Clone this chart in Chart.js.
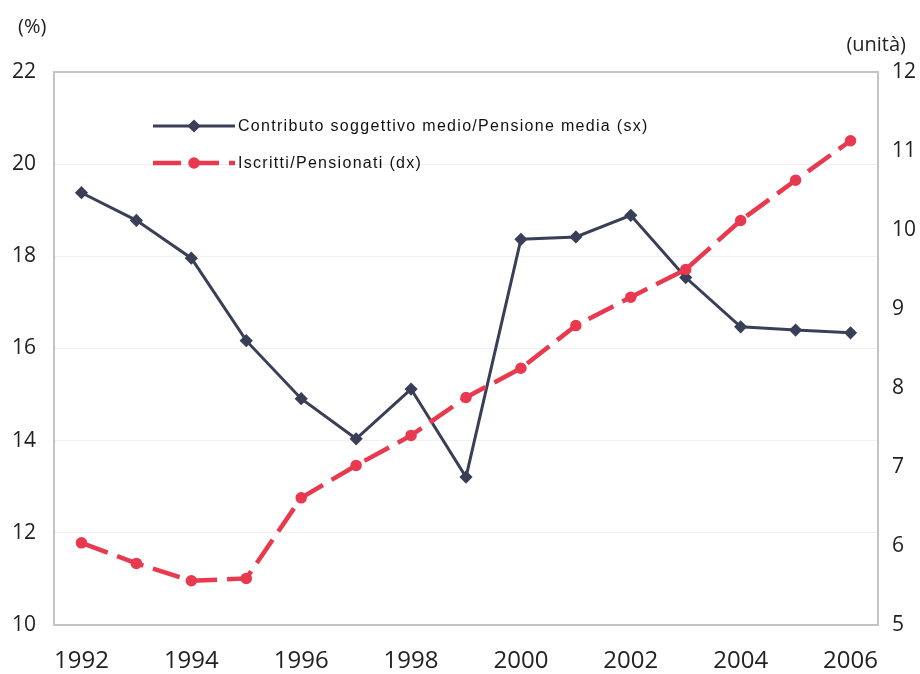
<!DOCTYPE html>
<html>
<head>
<meta charset="utf-8">
<script src="https://cdn.jsdelivr.net/npm/chart.js@4.4.1/dist/chart.umd.min.js"></script>
<style>
  html, body { margin: 0; padding: 0; background: #fff; }
  #wrap { width: 920px; height: 674px; position: relative; }
</style>
</head>
<body>
<div id="wrap"><canvas id="chart" width="920" height="674"></canvas></div>
<script>
// --- data ---
const years = ['1992','1993','1994','1995','1996','1997','1998','1999','2000','2001','2002','2003','2004','2005','2006'];
const contributo = [19.38, 18.78, 17.96, 16.17, 14.91, 14.04, 15.12, 13.21, 18.37, 18.42, 18.89, 17.54, 16.47, 16.40, 16.34];
const iscritti = [6.04, 5.78, 5.56, 5.59, 6.61, 7.02, 7.40, 7.88, 8.25, 8.79, 9.15, 9.50, 10.12, 10.63, 11.13];
const leftTicks = [10, 12, 14, 16, 18, 20, 22];
const rightTicks = [5, 6, 7, 8, 9, 10, 11, 12];
const seriesNames = ['Contributo soggettivo medio/Pensione media (sx)', 'Iscritti/Pensionati (dx)'];

const BLUE = '#3a3f58';
const RED = '#e8394e';
const TICK_FONT = "'Open Sans', 'DejaVu Sans', sans-serif";

Chart.defaults.animation = false;

// legend drawn inside the plot, plus frame and unit labels
const decor = {
  id: 'decor',
  afterDatasetsDraw(chart) {
    const { ctx, chartArea: a } = chart;
    ctx.save();
    // frame round the plot
    ctx.strokeStyle = '#c4c4c4';
    ctx.lineWidth = 2;
    ctx.strokeRect(a.left, a.top, a.right - a.left, a.bottom - a.top);

    // unit labels
    ctx.fillStyle = '#222';
    ctx.font = "20px " + TICK_FONT;
    ctx.textBaseline = 'middle';
    ctx.textAlign = 'left';
    ctx.fillText('(%)', 18, 27);
    ctx.textAlign = 'right';
    ctx.fillText('(unità)', 906, 45);

    // legend
    const x0 = a.left + 99, x1 = a.left + 181;
    const rows = [a.top + 54, a.top + 91];
    chart.data.datasets.forEach((ds, i) => {
      const y = rows[i];
      ctx.strokeStyle = ds.borderColor;
      ctx.lineWidth = ds.borderWidth;
      ctx.setLineDash(ds.borderDash || []);
      ctx.beginPath();
      ctx.moveTo(x0, y);
      ctx.lineTo(x1, y);
      ctx.stroke();
      ctx.setLineDash([]);
      Chart.helpers.drawPoint(ctx, {
        pointStyle: ds.pointStyle, radius: ds.pointRadius, borderWidth: 1
      }, (x0 + x1) / 2, y);
      ctx.fillStyle = ds.borderColor;
      ctx.fill();
      ctx.fillStyle = '#111';
      ctx.font = "16px 'Liberation Sans', Arial, sans-serif";
      ctx.letterSpacing = '1.3px';
      ctx.textAlign = 'left';
      ctx.textBaseline = 'middle';
      ctx.fillText(seriesNames[i], x1 + 3, y + 1);
      ctx.letterSpacing = '0px';
    });
    ctx.restore();
  }
};

function makeChart() {
  const ctx = document.getElementById('chart');
  new Chart(ctx, {
    type: 'line',
    data: {
      labels: years,
      datasets: [{
        label: seriesNames[0],
        data: contributo,
        yAxisID: 'y',
        borderColor: BLUE,
        backgroundColor: BLUE,
        borderWidth: 3,
        pointStyle: 'rectRot',
        pointRadius: 4.5,
        tension: 0,
        order: 1
      }, {
        label: seriesNames[1],
        data: iscritti,
        yAxisID: 'y1',
        borderColor: RED,
        backgroundColor: RED,
        borderWidth: 4.5,
        borderDash: [28, 10],
        pointStyle: 'circle',
        pointRadius: 3.5,
        tension: 0,
        order: 0
      }]
    },
    options: {
      responsive: false,
      maintainAspectRatio: false,
      events: [],
      layout: { padding: { top: 72, left: 0, right: 0, bottom: 0 } },
      plugins: { legend: { display: false }, tooltip: { enabled: false } },
      scales: {
        x: {
          offset: true,
          grid: { display: false, drawTicks: false },
          border: { display: false },
          ticks: {
            autoSkip: false,
            maxRotation: 0,
            padding: 22,
            color: '#222',
            font: { family: TICK_FONT, size: 24 },
            callback: (v, i) => (i % 2 === 0 ? years[i] : '')
          },
          afterFit: s => { s.height = 49; }
        },
        y: {
          position: 'left',
          min: leftTicks[0],
          max: leftTicks[leftTicks.length - 1],
          afterBuildTicks: s => { s.ticks = leftTicks.map(v => ({ value: v })); },
          grid: { color: 'rgba(0,0,0,0.06)', drawTicks: false },
          border: { display: false },
          ticks: {
            padding: 18,
            color: '#222',
            font: { family: TICK_FONT, size: 21 }
          },
          afterFit: s => { s.width = 54; }
        },
        y1: {
          position: 'right',
          min: rightTicks[0],
          max: rightTicks[rightTicks.length - 1],
          afterBuildTicks: s => { s.ticks = rightTicks.map(v => ({ value: v })); },
          grid: { display: false, drawTicks: false },
          border: { display: false },
          ticks: {
            padding: 14,
            color: '#222',
            font: { family: TICK_FONT, size: 21 }
          },
          afterFit: s => { s.width = 42; }
        }
      }
    },
    plugins: [decor]
  });
}

makeChart();
</script>
</body>
</html>
